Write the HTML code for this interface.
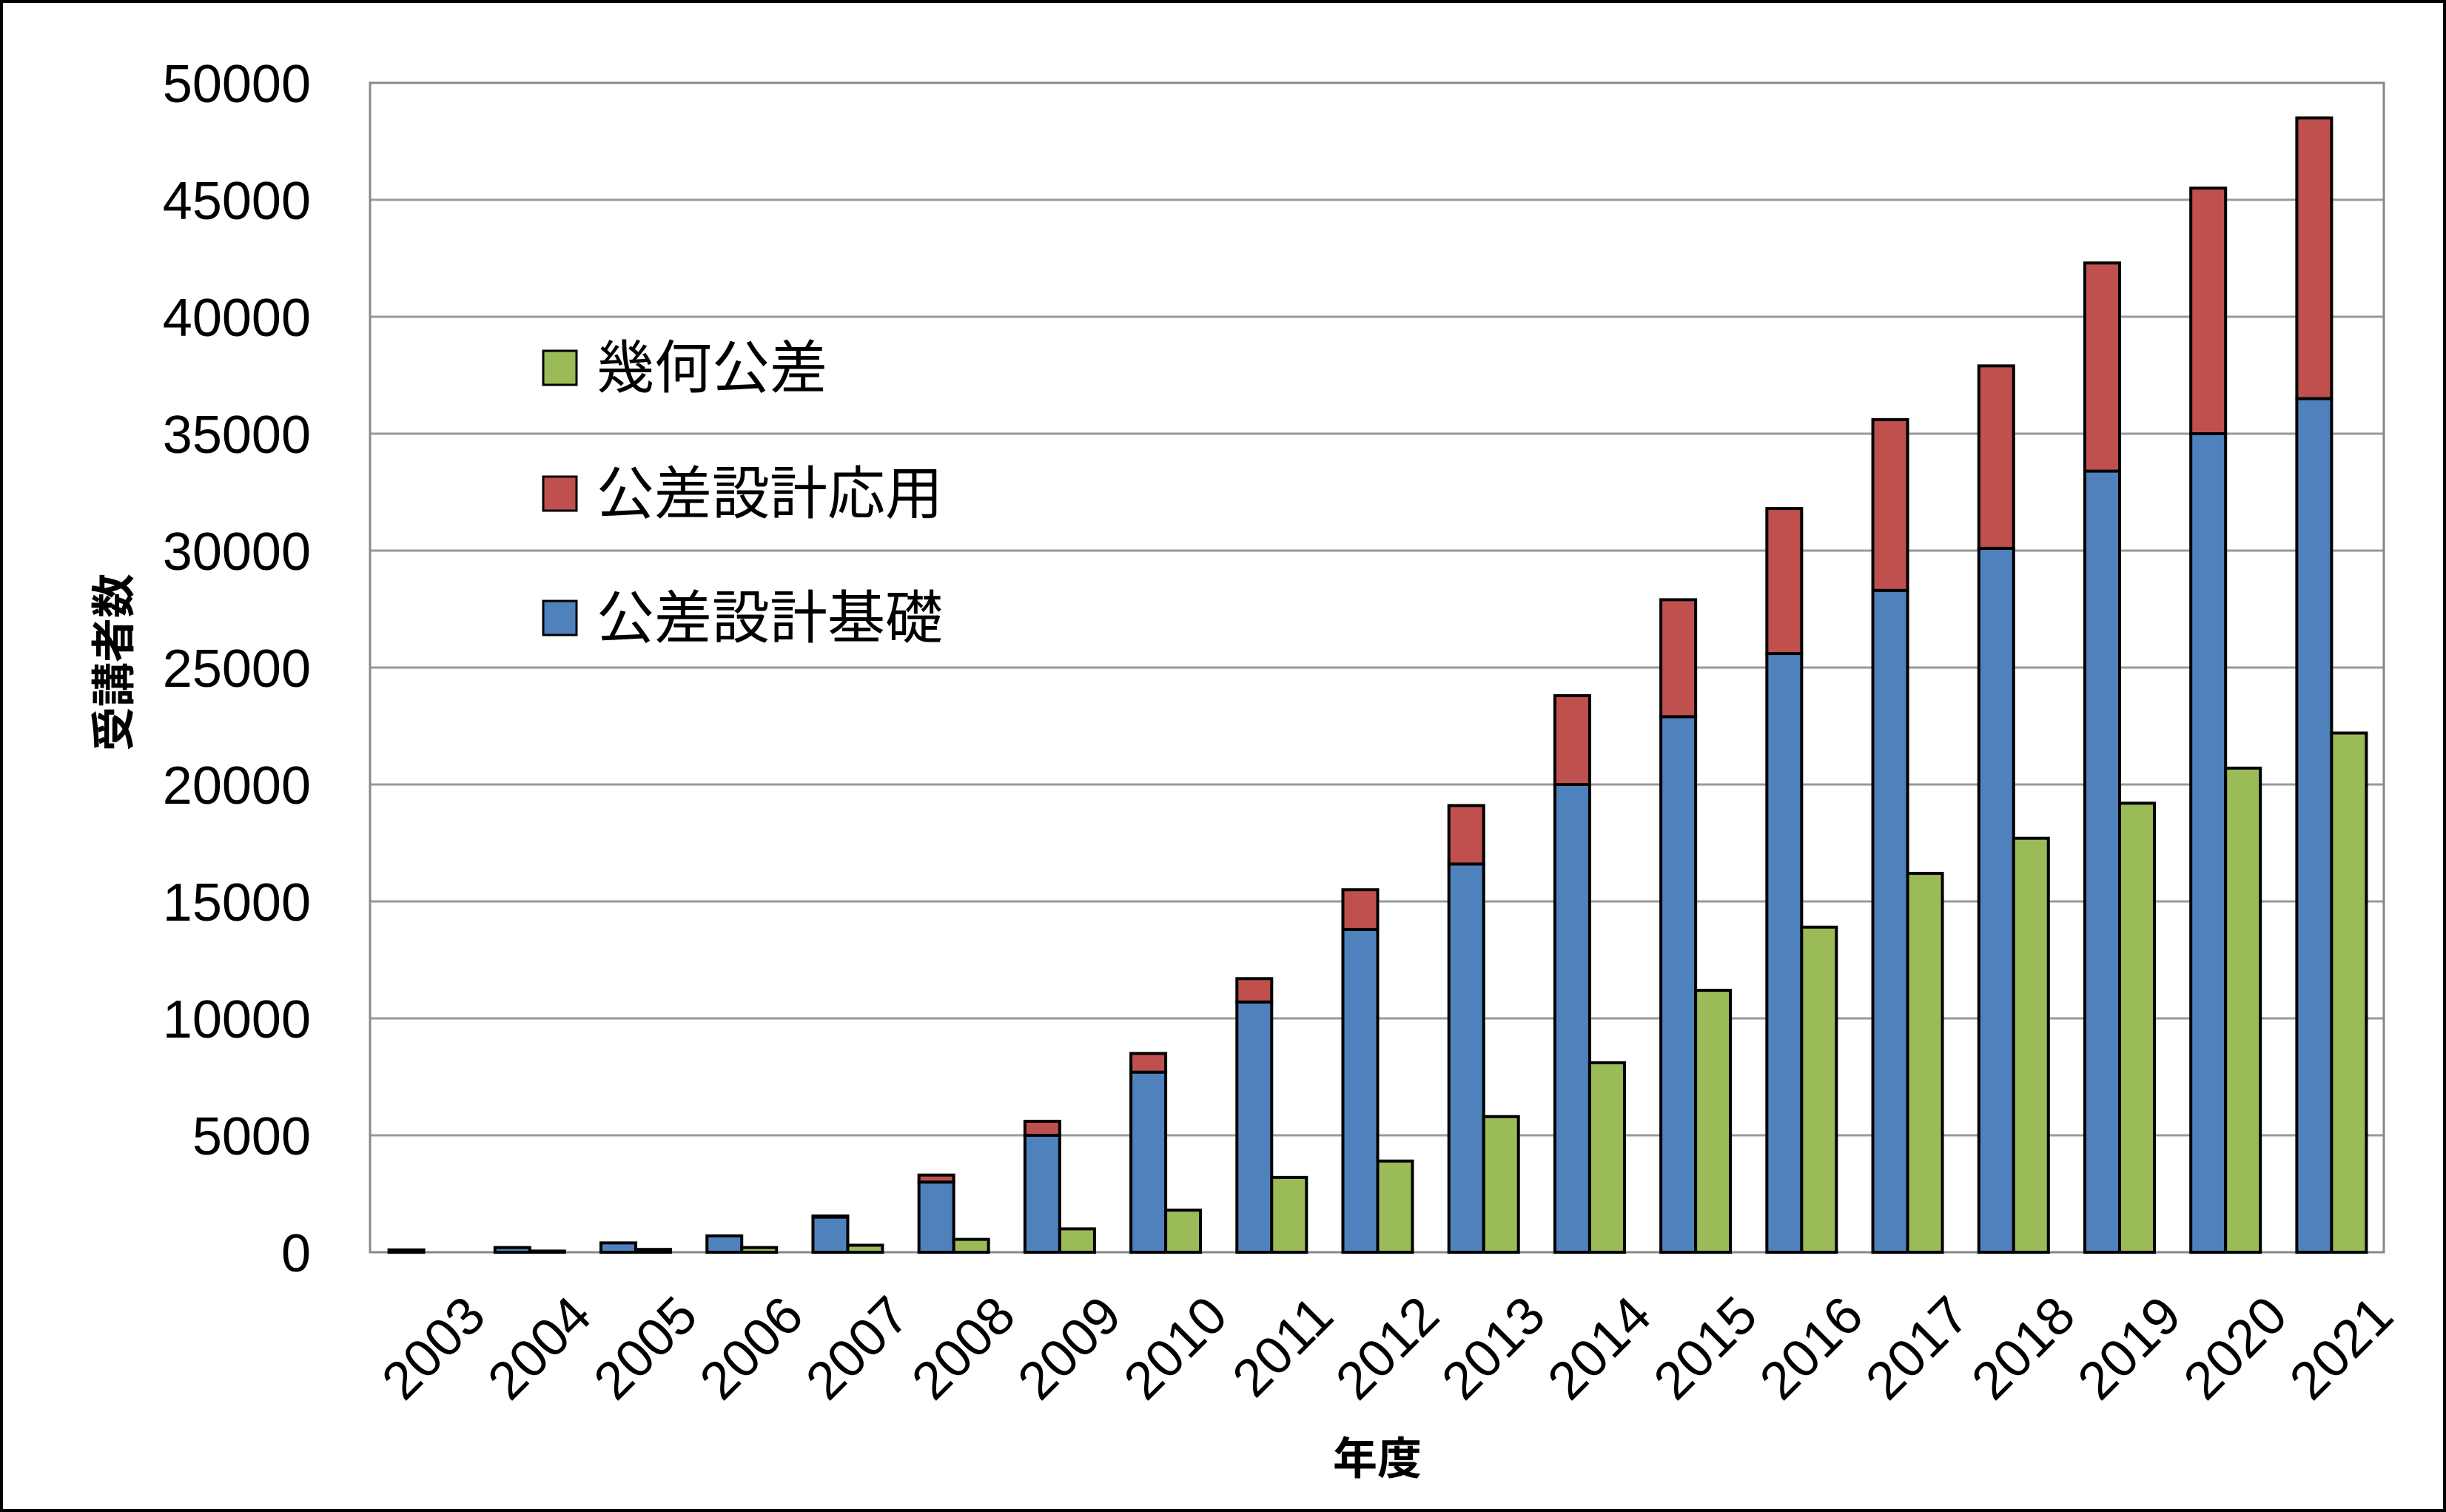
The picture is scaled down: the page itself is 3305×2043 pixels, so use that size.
<!DOCTYPE html>
<html><head><meta charset="utf-8"><style>
html,body{margin:0;padding:0;background:#fff}
svg{display:block}
text{font-family:"Liberation Sans","Noto Sans CJK JP",sans-serif;fill:#000}
</style></head><body>
<svg id="chart" width="3305" height="2043" viewBox="0 0 3305 2043" xmlns="http://www.w3.org/2000/svg">
<rect x="2" y="2" width="3301" height="2039" fill="#fff" stroke="#000" stroke-width="4"/>
<g id="grid"></g>
<g id="bars"></g>
<g id="yticks"></g>
<g id="xticks"></g>
<text transform="translate(175,895) rotate(-90)" text-anchor="middle" font-size="60" font-weight="bold">受講者数</text>
<text x="1861" y="1992" text-anchor="middle" font-size="60" font-weight="bold">年度</text>
<g>
<g><rect x="734" y="474" width="45" height="46" fill="#9BBB59" stroke="#000" stroke-width="3"/><text x="806" y="524" font-size="78">幾何公差</text></g>
<g><rect x="734" y="644" width="45" height="46" fill="#C0504D" stroke="#000" stroke-width="3"/><text x="806" y="694" font-size="78">公差設計応用</text></g>
<g><rect x="734" y="812" width="45" height="46" fill="#4F81BD" stroke="#000" stroke-width="3"/><text x="806" y="862" font-size="78">公差設計基礎</text></g>
</g>
</svg>
<script>
const years = ["2003","2004","2005","2006","2007","2008","2009","2010","2011","2012","2013","2014","2015","2016","2017","2018","2019","2020","2021"];
const kisoValues = [100,200,400,700,1500,3000,5000,7700,10700,13800,16600,20000,22900,25600,28300,30100,33400,35000,36500];
const ouyouValues = [0,0,0,0,50,300,600,800,1000,1700,2500,3800,5000,6200,7300,7800,8900,10500,12000];
const kikaValues = [0,50,120,200,300,550,1000,1800,3200,3900,5800,8100,11200,13900,16200,17700,19200,20700,22200];
const yTicks = [0,5000,10000,15000,20000,25000,30000,35000,40000,45000,50000];

const NS = "http://www.w3.org/2000/svg";
const L = 500, R = 3221, T = 112, B = 1692, YMAX = 50000;
const y = v => B - (v / YMAX) * (B - T);
const bandW = (R - L) / years.length;
const xBand = i => L + i * bandW;
const barW = 47;
function mk(tag, attrs, parent) {
  const e = document.createElementNS(NS, tag);
  for (const k in attrs) e.setAttribute(k, attrs[k]);
  parent.appendChild(e);
  return e;
}
const grid = document.getElementById('grid');
const yt = document.getElementById('yticks');
yTicks.forEach(v => {
  const ln = mk('line', {x1: L, x2: R, y1: y(v), y2: y(v), stroke: v === 0 ? '#bbb' : '#999', 'stroke-width': 3}, grid);
  
  
  const t = mk('text', {x: 420, y: y(v) + 26, 'text-anchor': 'end', 'font-size': 72}, yt);
  t.textContent = String(v);
  
  
});
const frame = mk('rect', {x: L, y: T, width: R - L, height: B - T, fill: 'none', stroke: '#888', 'stroke-width': 3}, grid);



const bars = document.getElementById('bars');
const xt = document.getElementById('xticks');
years.forEach((yr, i) => {
  const x0 = xBand(i) + (bandW - 2 * barW) / 2 + 1;
  const kb = mk('rect', {x: x0, y: y(kisoValues[i]), width: barW, height: B - y(kisoValues[i]), fill: '#4F81BD', stroke: '#000', 'stroke-width': 4}, bars);
  
  
  if (ouyouValues[i] > 0) {
    const top = kisoValues[i] + ouyouValues[i];
    const ob = mk('rect', {x: x0, y: y(top), width: barW, height: y(kisoValues[i]) - y(top), fill: '#C0504D', stroke: '#000', 'stroke-width': 4}, bars);
    
    
  }
  const gb = mk('rect', {x: x0 + barW, y: y(kikaValues[i]), width: barW, height: B - y(kikaValues[i]), fill: '#9BBB59', stroke: '#000', 'stroke-width': 4}, bars);
  
  
  const cx = xBand(i) + bandW / 2;
  const t = mk('text', {'text-anchor': 'end', 'font-size': 72, transform: 'translate(' + (cx + 88) + ',1782) rotate(-45)'}, xt);
  t.textContent = yr;
  
  
});
</script>
</body></html>
